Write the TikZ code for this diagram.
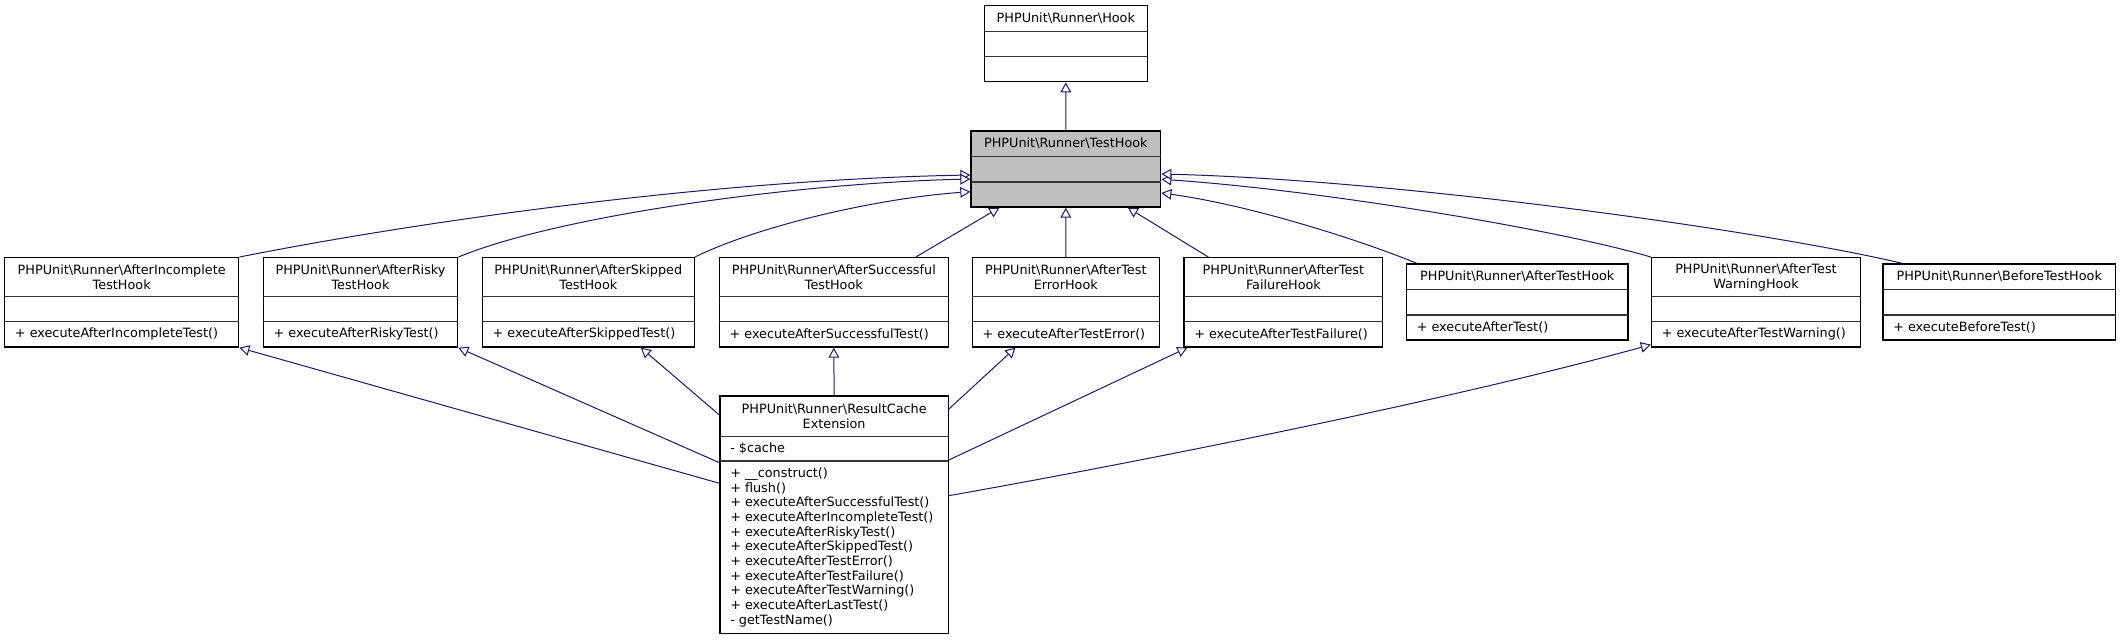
\documentclass[tikz,border=0pt]{standalone}
\usepackage{fontspec}
\setmainfont{DejaVu Sans}
\usetikzlibrary{arrows.meta,fit}
\newcommand\bsl{\textbackslash}
\definecolor{edgeblue}{HTML}{191970}
\definecolor{selgray}{HTML}{BFBFBF}
\begin{document}
\begin{tikzpicture}[x=0.75pt,y=-0.75pt,
  cls/.style={draw=black,line width=1pt,inner sep=0pt,fill=white},
  clssel/.style={cls,fill=selgray},
  divl/.style={line width=1pt,draw=black!80},
  ttl/.style={inner sep=0pt,align=center,font=\fontsize{9.6}{11}\selectfont},
  mem/.style={inner sep=0pt,anchor=west,align=left,font=\fontsize{9.6}{11}\selectfont},
  inh/.style={draw=edgeblue,line width=0.75pt,-{Triangle[length=7.5pt,width=8pt,fill=white]}}
]
\fill[white] (0,0) rectangle (2121,640);
\useasboundingbox (0,0) rectangle (2121,640);

% Hook
\node[cls,fit={(984.3,5.7) (1147.3,81.7)}] (hook) {};
\draw[divl] (984.3,31.7) -- (1147.3,31.7) (984.3,56.7) -- (1147.3,56.7);
\node[ttl] (hook-t) at (1065.8,18.7) {PHPUnit\bsl Runner\bsl Hook};

% TestHook
\node[clssel,fit={(971,131) (1160.7,207)}] (th) {};
\draw[divl] (971,156.3) -- (1160.7,156.3) (971,182) -- (1160.7,182);
\node[ttl] (th-t) at (1065.85,143.7) {PHPUnit\bsl Runner\bsl TestHook};

% AfterIncompleteTestHook
\node[cls,fit={(4.7,257.7) (238.7,347)}] (inc) {};
\draw[divl] (4.7,296.7) -- (238.7,296.7) (4.7,321.7) -- (238.7,321.7);
\node[ttl] (inc-t) at (121.7,277.2) {PHPUnit\bsl Runner\bsl AfterIncomplete\\TestHook};
\node[mem] (inc-m) at (14.7,334.35) {+ executeAfterIncompleteTest()};

% AfterRiskyTestHook
\node[cls,fit={(263.3,257.7) (457.7,347)}] (risky) {};
\draw[divl] (263.3,296.7) -- (457.7,296.7) (263.3,321.7) -- (457.7,321.7);
\node[ttl] (risky-t) at (360.5,277.2) {PHPUnit\bsl Runner\bsl AfterRisky\\TestHook};
\node[mem] (risky-m) at (273.3,334.35) {+ executeAfterRiskyTest()};

% AfterSkippedTestHook
\node[cls,fit={(482.3,257.7) (694.3,347)}] (skip) {};
\draw[divl] (482.3,296.7) -- (694.3,296.7) (482.3,321.7) -- (694.3,321.7);
\node[ttl] (skip-t) at (588.3,277.2) {PHPUnit\bsl Runner\bsl AfterSkipped\\TestHook};
\node[mem] (skip-m) at (492.3,334.35) {+ executeAfterSkippedTest()};

% AfterSuccessfulTestHook
\node[cls,fit={(719.3,257.7) (948.3,347)}] (succ) {};
\draw[divl] (719.3,296.7) -- (948.3,296.7) (719.3,321.7) -- (948.3,321.7);
\node[ttl] (succ-t) at (833.8,277.2) {PHPUnit\bsl Runner\bsl AfterSuccessful\\TestHook};
\node[mem] (succ-m) at (729.3,334.35) {+ executeAfterSuccessfulTest()};

% AfterTestErrorHook
\node[cls,fit={(972.3,257.7) (1159.3,347)}] (err) {};
\draw[divl] (972.3,296.7) -- (1159.3,296.7) (972.3,321.7) -- (1159.3,321.7);
\node[ttl] (err-t) at (1065.8,277.2) {PHPUnit\bsl Runner\bsl AfterTest\\ErrorHook};
\node[mem] (err-m) at (982.3,334.35) {+ executeAfterTestError()};

% AfterTestFailureHook
\node[cls,fit={(1184,257.7) (1382.7,347)}] (fail) {};
\draw[divl] (1184,296.7) -- (1382.7,296.7) (1184,321.7) -- (1382.7,321.7);
\node[ttl] (fail-t) at (1283.4,277.2) {PHPUnit\bsl Runner\bsl AfterTest\\FailureHook};
\node[mem] (fail-m) at (1194,334.35) {+ executeAfterTestFailure()};

% AfterTestHook
\node[cls,fit={(1406.5,264) (1628,340)}] (ath) {};
\draw[divl] (1406.5,289.3) -- (1628,289.3) (1406.5,315) -- (1628,315);
\node[ttl] (ath-t) at (1517.25,276.6) {PHPUnit\bsl Runner\bsl AfterTestHook};
\node[mem] (ath-m) at (1416.5,327.5) {+ executeAfterTest()};

% AfterTestWarningHook
\node[cls,fit={(1651.5,257.7) (1860.5,347)}] (warn) {};
\draw[divl] (1651.5,296.7) -- (1860.5,296.7) (1651.5,321.7) -- (1860.5,321.7);
\node[ttl] (warn-t) at (1756,277.2) {PHPUnit\bsl Runner\bsl AfterTest\\WarningHook};
\node[mem] (warn-m) at (1661.5,334.35) {+ executeAfterTestWarning()};

% BeforeTestHook
\node[cls,fit={(1883,264) (2115.5,340)}] (bth) {};
\draw[divl] (1883,289.3) -- (2115.5,289.3) (1883,315) -- (2115.5,315);
\node[ttl] (bth-t) at (1999.25,276.6) {PHPUnit\bsl Runner\bsl BeforeTestHook};
\node[mem] (bth-m) at (1893,327.5) {+ executeBeforeTest()};

% ResultCacheExtension
\node[cls,fit={(720,396) (948.3,633.3)}] (rc) {};
\draw[divl] (720,436.7) -- (948.3,436.7) (720,461) -- (948.3,461);
\node[ttl] (rc-t) at (834.15,416.35) {PHPUnit\bsl Runner\bsl ResultCache\\Extension};
\node[mem] (rc-a) at (730,448.85) {- \$cache};
\node[mem] (rc-m) at (730,547.15) {+ \_\_construct()\\+ flush()\\+ executeAfterSuccessfulTest()\\+ executeAfterIncompleteTest()\\+ executeAfterRiskyTest()\\+ executeAfterSkippedTest()\\+ executeAfterTestError()\\+ executeAfterTestFailure()\\+ executeAfterTestWarning()\\+ executeAfterLastTest()\\- getTestName()};

% inheritance edges to TestHook
\draw[inh] (th.north) -- (hook.south);
\draw[inh] (inc.north east) .. controls (400,225) and (700,180) .. ([shift={(0,6)}]th.west);
\draw[inh] (risky.north east) .. controls (560,215) and (800,183) .. ([shift={(0,10)}]th.west);
\draw[inh] (skip.north east) .. controls (760,225) and (880,198) .. ([shift={(0,22.7)}]th.west);
\draw[inh] ([shift={(82,0)}]succ.north) -- ([shift={(-66.5,0)}]th.south);
\draw[inh] (err.north) -- (th.south);
\draw[inh] ([shift={(25,0)}]fail.north west) -- ([shift={(62,0)}]th.south);
\draw[inh] ([shift={(11,0)}]ath.north west) .. controls (1360,240) and (1250,205) .. ([shift={(0,24)}]th.east);
\draw[inh] (warn.north west) .. controls (1560,230) and (1320,190) .. ([shift={(0,10.3)}]th.east);
\draw[inh] ([shift={(20,0)}]bth.north west) .. controls (1760,230) and (1400,180) .. ([shift={(0,5)}]th.east);

% inheritance edges from ResultCacheExtension
\draw[inh] ([shift={(0,-31.4)}]rc.west) -- (inc.south east);
\draw[inh] ([shift={(0,-52)}]rc.west) -- (risky.south east);
\draw[inh] ([shift={(0,-99.7)}]rc.west) -- ([shift={(52.5,0)}]skip.south);
\draw[inh] (rc.north) -- (succ.south);
\draw[inh] ([shift={(0,-105.7)}]rc.east) -- ([shift={(-50.3,0)}]err.south);
\draw[inh] ([shift={(0,-54.7)}]rc.east) -- ([shift={(4,0)}]fail.south west);
\draw[inh] ([shift={(0,-19)}]rc.east) .. controls (1150,460) and (1450,400) .. ([shift={(0,-3)}]warn.south west);
\end{tikzpicture}
\end{document}
